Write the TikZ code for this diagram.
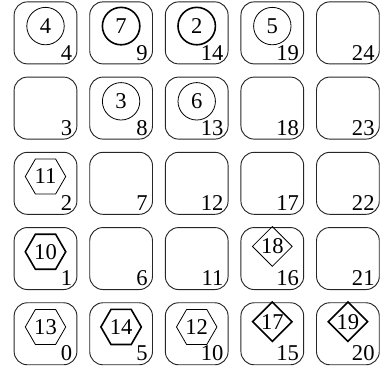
\documentclass[tikz,border=0pt]{standalone}
\usepackage{fontspec}
\setmainfont{Liberation Serif}
\usetikzlibrary{shapes.geometric}

\tikzset{
  digits/.style={font=\fontsize{17}{19}\selectfont},
  cell/.style={draw=black!85, line width=0.7pt, rounded corners=0.35cm,
    minimum width=1.66cm, minimum height=1.64cm, inner sep=0pt},
  idx/.style={digits, anchor=south east, inner sep=0pt},
  ring/.style={digits, draw, circle, minimum size=0.99cm, inner sep=0pt, line width=0.6pt},
  hexa/.style={digits, draw, regular polygon, regular polygon sides=6,
    minimum size=1.07cm, inner sep=0pt, line width=0.6pt},
  rhomb/.style={digits, draw, diamond, minimum width=1.06cm, minimum height=1.06cm,
    inner sep=0pt, line width=0.6pt},
  heavy/.style={line width=1.2pt}
}

\begin{document}
\begin{tikzpicture}
  \useasboundingbox (0,0) rectangle (10.106,9.841);

  % Grid of cells, numbered column by column from the bottom
  \foreach \c in {0,...,4} {
    \foreach \r in {0,...,4} {
      \pgfmathtruncatemacro{\k}{5*\c+\r}
      \node[cell] (c\k) at ({1.204+2*\c}, {1.011+1.99*\r}) {};
      \node[idx] (n\k) at ([xshift=-0.13cm, yshift=0.1cm]c\k.south east) {\k};
    }
  }

  % Circles
  \node[ring] (s4) at ([yshift=0.18cm]c4.center) {4};
  \node[ring, heavy] (s9) at ([yshift=0.18cm]c9.center) {7};
  \node[ring, heavy] (s14) at ([yshift=0.18cm]c14.center) {2};
  \node[ring] (s19) at ([yshift=0.18cm]c19.center) {5};
  \node[ring] (s8) at ([yshift=0.18cm]c8.center) {3};
  \node[ring] (s13) at ([yshift=0.18cm]c13.center) {6};

  % Hexagons
  \node[hexa] (s2) at ([yshift=0.18cm]c2.center) {11};
  \node[hexa, heavy] (s1) at ([yshift=0.18cm]c1.center) {10};
  \node[hexa] (s0) at ([yshift=0.18cm]c0.center) {13};
  \node[hexa, heavy] (s5) at ([yshift=0.18cm]c5.center) {14};
  \node[hexa] (s10) at ([yshift=0.18cm]c10.center) {12};

  % Diamonds
  \node[rhomb] (s16) at ([yshift=0.32cm]c16.center) {18};
  \node[rhomb, heavy] (s15) at ([yshift=0.32cm]c15.center) {17};
  \node[rhomb, heavy] (s20) at ([yshift=0.32cm]c20.center) {19};
\end{tikzpicture}
\end{document}
